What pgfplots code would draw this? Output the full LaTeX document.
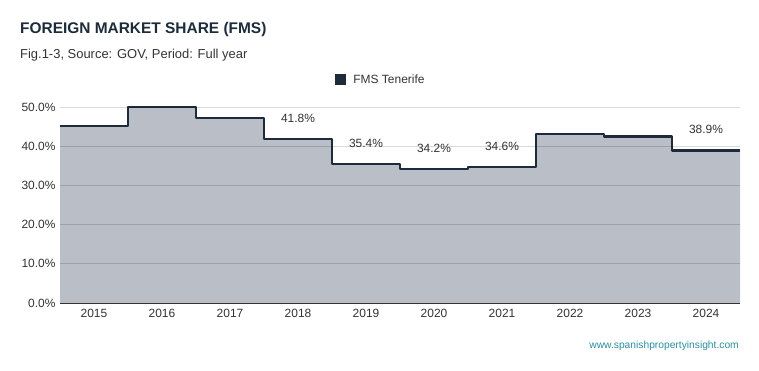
\documentclass[border=0pt]{standalone}
\usepackage{pgfplots}
\pgfplotsset{compat=1.18}
\usepackage{pgfplotstable}
\usepackage{fontspec}
\setmainfont{Liberation Sans}
\definecolor{fmsline}{HTML}{1D2B3A}
\definecolor{fmsfill}{HTML}{BABEC6}
\definecolor{ticktext}{HTML}{333333}
\definecolor{urlcol}{HTML}{2A8FA0}
\pgfplotstableread{
x y
-0.5 45.2
0.5 49.9
1.5 47.2
2.5 41.8
3.5 35.4
4.5 34.2
5.5 34.6
6.5 43.2
7.5 42.5
8.5 38.9
9.5 38.9
}\fmsdata
\begin{document}
\begin{tikzpicture}
\useasboundingbox (-60bp,-68bp) rectangle (699bp,303bp);
\begin{axis}[
  at={(0,0)}, anchor=south west,
  scale only axis, width=680bp, height=196bp,
  xmin=-0.5, xmax=9.5, ymin=0, ymax=50,
  clip=false,
  axis on top,
  axis x line*=bottom, axis y line*=left,
  y axis line style={draw=none},
  x axis line style={draw=ticktext, line width=0.9bp, -},
  major tick length=0pt,
  xtick={0,1,2,3,4,5,6,7,8,9},
  xticklabels={2015,2016,2017,2018,2019,2020,2021,2022,2023,2024},
  ytick={0,10,20,30,40,50},
  yticklabel={\pgfmathprintnumber[fixed,fixed zerofill,precision=1]{\tick}\%},
  /pgf/number format/assume math mode=true,
  ymajorgrids,
  major grid style={draw=black, opacity=0.15, line width=0.8bp},
  tick label style={font=\fontsize{12}{14}\selectfont, text=ticktext},
  xticklabel style={yshift=-3bp},
  yticklabel style={xshift=-1bp},
  legend style={at={(0.472,1.138)}, anchor=center, draw=none, fill=none,
    font=\fontsize{12}{14}\selectfont, text=ticktext,
    legend cell align=left, inner sep=0pt},
  legend image code/.code={\path[draw=none, fill=fmsline] (0bp,-5.5bp) rectangle (11bp,5.5bp); \path[draw=none, fill=none] (0bp,0bp) rectangle (16bp,0.1bp);},
]
\addplot[const plot mark left, fill=fmsfill, draw=none, forget plot] table[x=x,y=y]{\fmsdata} \closedcycle;
\addplot[const plot mark left, draw=fmsline, line width=2.2bp, line join=round] table[x=x,y=y]{\fmsdata};
\addlegendentry{FMS Tenerife}
\addplot[draw=none, mark=none, forget plot,
  nodes near coords, point meta=explicit symbolic,
  every node near coord/.append style={anchor=south, inner sep=0pt, yshift=16.5bp,
    font=\fontsize{12}{14}\selectfont, text=ticktext}]
  coordinates {(3,41.8)[41.8\%] (4,35.4)[35.4\%] (5,34.2)[34.2\%] (6,34.6)[34.6\%] (9,38.9)[38.9\%]};
\end{axis}
\node[anchor=base west, inner sep=0pt, text=fmsline, font=\fontsize{15.5}{18}\selectfont\bfseries] at (-40bp,269bp) {FOREIGN MARKET SHARE (FMS)};
\node[anchor=base west, inner sep=0pt, text=ticktext, font=\fontsize{13}{16}\selectfont] at (-40bp,244bp) {Fig.1-3, Source: GOV, Period: Full year};
\node[anchor=east, inner sep=0pt, text=urlcol, font=\fontsize{10.3}{12}\selectfont] at (679bp,-43bp) {www.spanishpropertyinsight.com};
\end{tikzpicture}
\end{document}
